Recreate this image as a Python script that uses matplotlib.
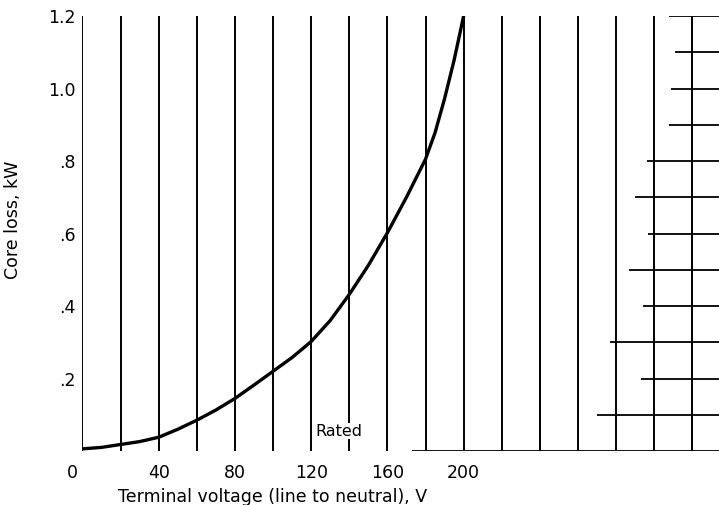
import matplotlib.pyplot as plt
from matplotlib.transforms import ScaledTranslation

# Core loss curve
voltage = [0, 10, 20, 30, 40, 50, 60, 70, 80, 90, 100, 110, 120, 130, 140, 150, 160, 170, 180, 185, 190,
           195, 200]
core_loss = [0.006, 0.010, 0.018, 0.026, 0.038, 0.060, 0.085, 0.113, 0.145, 0.182, 0.220, 0.258, 0.302,
             0.360, 0.432, 0.512, 0.602, 0.700, 0.805, 0.878, 0.972, 1.078, 1.200]

# Vertical chart-paper lines and labelled ticks
grid_v = list(range(0, 321, 20))
xtick_labels = ["0", "40", "80", "120", "160", "200"]
ytick_vals = [0.2, 0.4, 0.6, 0.8, 1.0, 1.2]
ytick_labels = [".2", ".4", ".6", ".8", "1.0", "1.2"]

# Partial horizontal lines on the right side (level, starting voltage)
h_levels = [1.2, 1.1, 1.0, 0.9, 0.8, 0.7, 0.6, 0.5, 0.4, 0.3, 0.2, 0.1, 0.0]
h_start = [308, 311, 309, 308, 296, 290, 297, 287, 294, 277, 293, 270, 173]

plt.rcParams['font.family'] = ['DejaVu Sans']

fig = plt.figure(figsize=(7.19, 5.05), dpi=100)
ax = fig.add_axes([0.1147, 0.1069, 0.8853, 0.8614])

ax.vlines(grid_v, 0, 1.2, color='black', lw=1.4)
ax.hlines(h_levels, h_start, 334, color='black', lw=1.3)
ax.plot(voltage, core_loss, color='black', lw=2.4, solid_joinstyle='round')

ax.text(122, 0.055, "Rated", fontsize=11.5, va='center', ha='left',
        bbox=dict(facecolor='white', edgecolor='none', pad=0.6))

ax.set_xlim(0, 334)
ax.set_ylim(0, 1.2)
ax.set_xticks([0, 40, 80, 120, 160, 200])
ax.set_xticklabels(xtick_labels)
ax.set_yticks(ytick_vals)
ax.set_yticklabels(ytick_labels)
ax.tick_params(length=0, labelsize=12.5)
ax.tick_params(axis='x', pad=9)
ax.tick_params(axis='y', pad=5)

# the "0" sits a little left of the axis in the original
lbl0 = ax.get_xticklabels()[0]
lbl0.set_transform(lbl0.get_transform() + ScaledTranslation(-0.1, 0, fig.dpi_scale_trans))

for s in ax.spines.values():
    s.set_visible(False)

ax.set_xlabel("Terminal voltage (line to neutral), V", fontsize=12.5)
ax.xaxis.set_label_coords(0.299, -0.085)
ax.set_ylabel("Core loss, kW", fontsize=12.5)
ax.yaxis.set_label_coords(-0.095, 0.531)

fig.savefig("out.png", dpi=100)
